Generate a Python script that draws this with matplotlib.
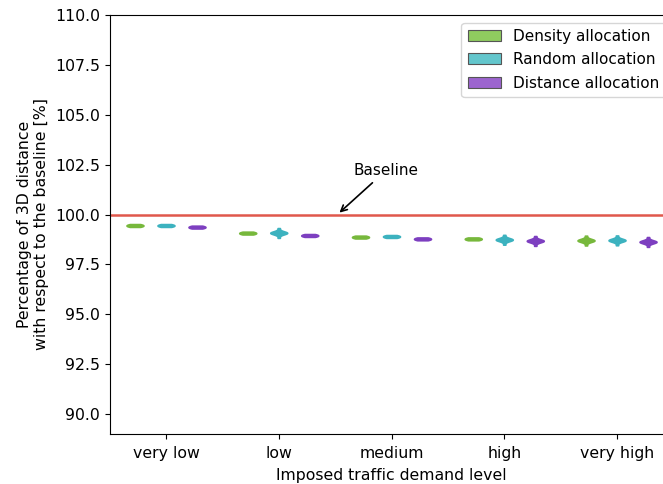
import matplotlib
matplotlib.use("Agg")
import matplotlib.pyplot as plt
from matplotlib.patches import Patch
import numpy as np

levels = ["very low", "low", "medium", "high", "very high"]
series = ["Density allocation", "Random allocation", "Distance allocation"]

# estimated samples per (series, level), percent of baseline 3D distance
density = [
    [99.38, 99.41, 99.44, 99.46, 99.49, 99.52],
    [99.00, 99.03, 99.06, 99.08, 99.11, 99.14],
    [98.80, 98.83, 98.86, 98.88, 98.91, 98.94],
    [98.71, 98.74, 98.77, 98.79, 98.82, 98.85],
    [98.45, 98.63, 98.67, 98.69, 98.70, 98.70, 98.71, 98.71, 98.73, 98.77, 98.94],
]
random_ = [
    [99.38, 99.41, 99.44, 99.46, 99.49, 99.52],
    [98.83, 99.01, 99.05, 99.07, 99.08, 99.08, 99.09, 99.09, 99.11, 99.15, 99.32],
    [98.83, 98.86, 98.89, 98.91, 98.94, 98.97],
    [98.49, 98.67, 98.71, 98.73, 98.74, 98.74, 98.75, 98.75, 98.77, 98.81, 98.98],
    [98.46, 98.64, 98.68, 98.70, 98.71, 98.71, 98.72, 98.72, 98.74, 98.78, 98.95],
]
distance = [
    [99.30, 99.33, 99.36, 99.38, 99.41, 99.44],
    [98.88, 98.91, 98.94, 98.96, 98.99, 99.02],
    [98.71, 98.74, 98.77, 98.79, 98.82, 98.85],
    [98.43, 98.61, 98.65, 98.67, 98.68, 98.68, 98.69, 98.69, 98.71, 98.75, 98.92],
    [98.38, 98.56, 98.60, 98.62, 98.63, 98.63, 98.64, 98.64, 98.66, 98.70, 98.87],
]
yticks = [90.0, 92.5, 95.0, 97.5, 100.0, 102.5, 105.0, 107.5, 110.0]

face_colors = ["#77b83c", "#3cb2bf", "#7d3fc0"]
legend_colors = ["#8fcb5f", "#63c6cc", "#9c64cf"]

fig = plt.figure(figsize=(6.63, 4.84), dpi=100)
ax = fig.add_axes([109.6 / 663, 50 / 484, (673.4 - 109.6) / 663, 419 / 484])

offsets = [-0.275, 0.0, 0.275]
for data, off, fc in zip([density, random_, distance], offsets, face_colors):
    pos = np.arange(len(levels)) + off
    parts = ax.violinplot(data, positions=pos, widths=0.15,
                          showextrema=False, showmeans=False, showmedians=False)
    for b in parts["bodies"]:
        b.set_facecolor(fc)
        b.set_edgecolor(fc)
        b.set_linewidth(1.2)
        b.set_alpha(1.0)

ax.axhline(100, color="#e0584c", linewidth=1.8, zorder=0.5)
ax.annotate("Baseline", xy=(1.52, 100.0), xytext=(1.95, 102.2),
            ha="center", va="center", fontsize=11,
            arrowprops=dict(arrowstyle="->", color="black", lw=1.2))

ax.set_xlim(-0.5, 4.5)
ax.set_ylim(89.0, 110.0)
ax.set_xticks(range(len(levels)))
ax.set_xticklabels(levels, fontsize=11.3)
ax.tick_params(axis="x", pad=5)
ax.set_yticks(yticks)
ax.set_yticklabels([f"{v:.1f}" for v in yticks], fontsize=11.3)
ax.set_xlabel("Imposed traffic demand level", fontsize=11.3, labelpad=5)
ax.set_ylabel("Percentage of 3D distance\nwith respect to the baseline [%]", fontsize=11.3)

handles = [Patch(facecolor=c, edgecolor="#555555", linewidth=0.8, label=s)
           for c, s in zip(legend_colors, series)]
ax.legend(handles=handles, loc="upper right", fontsize=11, handlelength=2.2,
          labelspacing=0.55)

fig.savefig("out.png", dpi=100)
